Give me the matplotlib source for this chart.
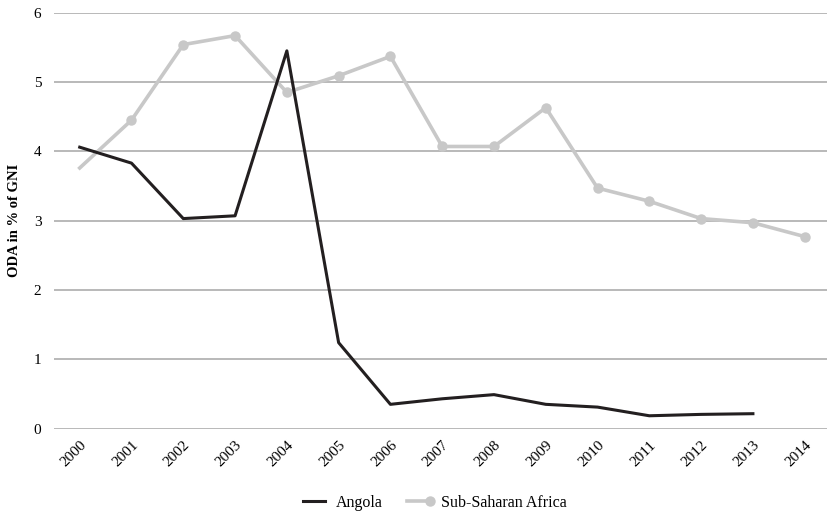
import matplotlib.pyplot as plt
from matplotlib.lines import Line2D
from matplotlib.legend_handler import HandlerLine2D

# ── data ──────────────────────────────────────────────────────────────────────

years = [str(y) for y in range(2000, 2015)]
angola = [4.06, 3.83, 3.03, 3.07, 5.45, 1.24, 0.35, 0.43, 0.49, 0.35, 0.31,
          0.185, 0.205, 0.215]
ssa = [3.76, 4.45, 5.54, 5.67, 4.85, 5.09, 5.37, 4.07, 4.07, 4.63, 3.47,
       3.28, 3.03, 2.97, 2.77]


# legend handle with the marker only at the right end of the line
class RightMarker(HandlerLine2D):
    def create_artists(self, *args, **kwargs):
        artists = super().create_artists(*args, **kwargs)
        ln = artists[0]
        ln.set_markevery([len(ln.get_xdata()) - 1])
        return artists


# ── plot ──────────────────────────────────────────────────────────────────────

plt.rcParams['font.family'] = ['Liberation Serif', 'DejaVu Serif']

fig = plt.figure(figsize=(8.28, 5.17), dpi=100)
ax = fig.add_axes([0.065, 0.171, 0.935, 0.8044])

x_ssa = list(range(len(ssa)))
x_ang = list(range(len(angola)))

ax.plot(x_ssa, ssa, color='#c8c8c8', lw=2.6, marker='o', ms=6.5,
        markevery=list(range(1, len(ssa))), zorder=3)
ax.plot(x_ang, angola, color='#231f20', lw=2.2, zorder=4)

ax.set_xlim(-0.5, 14.45)
ax.set_ylim(0, 6)
ax.set_yticks(range(0, 7))
ax.grid(axis='y', color='#a6a6a6', lw=1.1)
ax.set_axisbelow(True)
for s in ax.spines.values():
    s.set_visible(False)

ax.set_xticks(x_ssa)
ax.set_xticklabels(years, rotation=45, ha='right', rotation_mode='anchor',
                   fontsize=11)
ax.tick_params(axis='x', length=0, pad=7)
ax.tick_params(axis='y', length=0, pad=9, labelsize=11)
ax.set_ylabel('ODA in % of GNI', fontsize=10.5, fontweight='bold')
ax.yaxis.set_label_coords(-0.042, 0.5)

sa_handle = Line2D([], [], color='#c8c8c8', lw=2.6, marker='o', ms=6.5)
handles = [Line2D([], [], color='#231f20', lw=2.2), sa_handle]
fig.legend(handles, ['Angola', 'Sub-Saharan Africa'], loc='center',
           bbox_to_anchor=(0.522, 0.027), ncol=2, frameon=False,
           fontsize=11.5, handlelength=2.0, handletextpad=0.4,
           columnspacing=1.2, numpoints=2,
           handler_map={sa_handle: RightMarker()})

fig.savefig('out.png', dpi=100)
